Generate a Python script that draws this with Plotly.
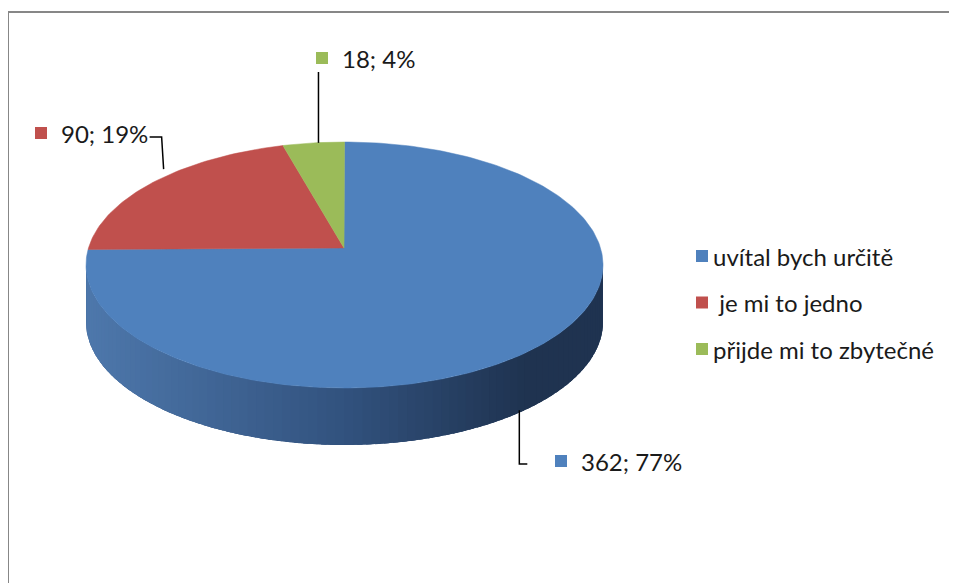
import numpy as np
import plotly.graph_objects as go

categories = ["uvítal bych určitě", "je mi to jedno", "přijde mi to zbytečné"]
values = [362, 90, 18]
colors = ["#4F81BD", "#C0504D", "#9BBB59"]

W, H = 957, 583
OFF = 8  # default page body margin
cx, cy, rx, ry = 344.5, 265.0, 258.5, 123.0
depth = 57.0
vx, vy = 344.0, 248.0  # apex (perspective offset)

total = sum(values)
fracs = [v / total for v in values]

def pt(theta_cw_from_top, dy=0.0):
    t = np.radians(theta_cw_from_top)
    return cx + rx * np.sin(t), cy - ry * np.cos(t) + dy

fig = go.Figure()

# side wall (front half, visible) with horizontal shading
n = 90
c_left = np.array([78, 120, 172])
c_mid = np.array([50, 82, 126])
c_right = np.array([31, 51, 80])
angles = np.linspace(90, 270, n + 1)
step = angles[1] - angles[0]
aa = np.linspace(90, 270, 200)
xs_top, ys_top = pt(aa)
xs_bot, ys_bot = pt(aa[::-1], depth)
fig.add_trace(go.Scatter(
    x=np.concatenate([xs_top, xs_bot]), y=np.concatenate([ys_top, ys_bot]),
    fill="toself", mode="lines", line=dict(width=0),
    fillcolor="rgb(50,82,126)", hoverinfo="skip", showlegend=False))
for i in range(n):
    a1 = angles[i]
    a2 = min(angles[i + 1] + step * 0.6, 270)
    aa = np.linspace(a1, a2, 4)
    xs_top, ys_top = pt(aa)
    xs_bot, ys_bot = pt(aa[::-1], depth)
    xm = (xs_top.mean() - (cx - rx)) / (2 * rx)
    if xm < 0.5:
        c = c_left + (c_mid - c_left) * (xm / 0.5)
    else:
        c = c_mid + (c_right - c_mid) * min((xm - 0.5) / 0.35, 1.0)
    col = "rgb(%d,%d,%d)" % tuple(c.astype(int))
    fig.add_trace(go.Scatter(
        x=np.concatenate([xs_top, xs_bot]), y=np.concatenate([ys_top, ys_bot]),
        fill="toself", mode="lines", line=dict(width=0),
        fillcolor=col, hoverinfo="skip", showlegend=False))

# top face wedges
start = 0.0
mids = []
for f, col, name in zip(fracs, colors, categories):
    end = start + f * 360
    aa = np.linspace(start, end, max(int(f * 360), 4))
    xs, ys = pt(aa)
    fig.add_trace(go.Scatter(
        x=np.concatenate([[vx], xs, [vx]]), y=np.concatenate([[vy], ys, [vy]]),
        fill="toself", mode="lines", line=dict(color=col, width=0.5),
        fillcolor=col, name=name, showlegend=False, hoverinfo="skip"))
    mids.append((start + end) / 2)
    start = end

TXT = dict(family="Lato", size=24, color="#1a1a1a")

# data labels with leader lines
label_pos = [(561, 461), (41, 133), (322, 58)]
for i, (v, f, col, m) in enumerate(zip(values, fracs, colors, mids)):
    ax, ay = pt(m)
    lx, ly = label_pos[i]
    if i == 0:
        ay += depth - 4
        lxs, lys = [ax + 4, ax + 4, ax + 12], [ay, ly + 3, ly + 3]
    elif i == 1:
        lxs, lys = [ax + 12, ax + 10, ax - 2], [ay - 14, ly + 4, ly + 4]
    else:
        lxs, lys = [ax + 5, ax + 5], [ay, ly + 14]
    fig.add_trace(go.Scatter(x=lxs, y=lys, mode="lines",
                             line=dict(color="black", width=1.5),
                             hoverinfo="skip", showlegend=False))
    fig.add_trace(go.Scatter(x=[lx], y=[ly], mode="markers",
                             marker=dict(symbol="square", size=12, color=col),
                             hoverinfo="skip", showlegend=False))
    fig.add_annotation(x=lx + 18, y=ly, xref="x", yref="y",
                       text="%d; %d%%" % (v, round(f * 100)),
                       showarrow=False, xanchor="left", yanchor="middle",
                       font=TXT)

# legend
leg_x, leg_y0, leg_dy = 702, 256, 46.5
for i, (name, col) in enumerate(zip(categories, colors)):
    y = leg_y0 + i * leg_dy
    fig.add_trace(go.Scatter(x=[leg_x], y=[y], mode="markers",
                             marker=dict(symbol="square", size=12, color=col),
                             hoverinfo="skip", showlegend=False))
    fig.add_annotation(x=leg_x + 9, y=y, xref="x", yref="y",
                       text=(" " + name) if i == 1 else name,
                       showarrow=False, xanchor="left", yanchor="middle",
                       font=TXT)

fig.add_shape(type="rect", x0=8, y0=12, x1=990, y1=620, xref="x", yref="y",
              line=dict(color="#878787", width=2), fillcolor="rgba(0,0,0,0)",
              layer="above")

fig.update_layout(
    width=W - OFF, height=H - OFF, autosize=False,
    margin=dict(l=0, r=0, t=0, b=0),
    paper_bgcolor="white", plot_bgcolor="white",
    xaxis=dict(range=[OFF, W], visible=False, fixedrange=True),
    yaxis=dict(range=[H, OFF], visible=False, fixedrange=True),
    showlegend=False,
)
fig.write_html("out.html")
